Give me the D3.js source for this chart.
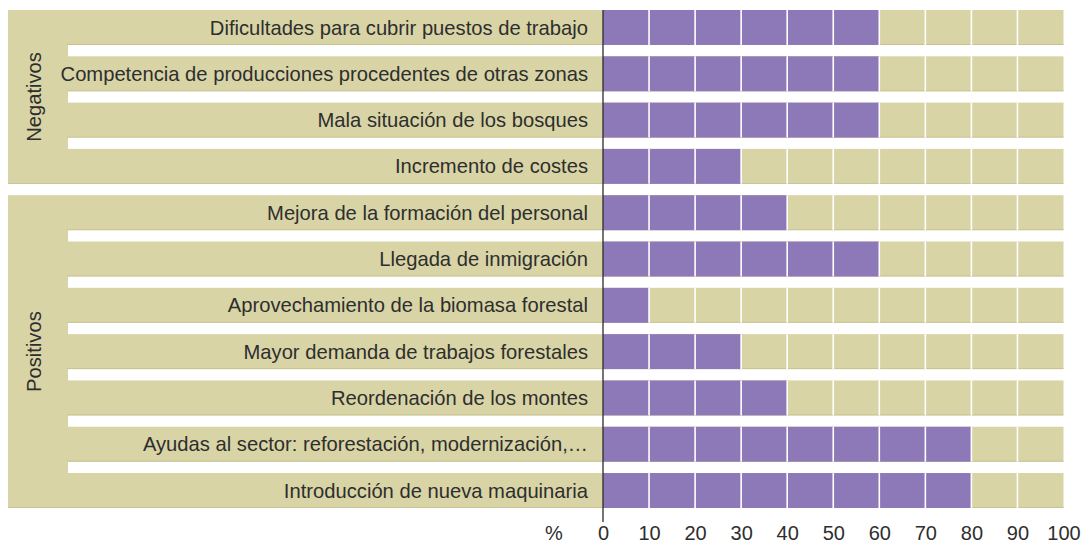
<!DOCTYPE html>
<html><head><meta charset="utf-8">
<script src="https://cdn.jsdelivr.net/npm/d3@7"></script>
<style>body{margin:0;background:#fff}svg{display:block}text{font-family:"Liberation Sans",Arial,sans-serif;fill:#2e2e2e}</style>
</head><body><svg id="c" width="1084" height="544"></svg>
<script>
const categories = [
  "Dificultades para cubrir puestos de trabajo",
  "Competencia de producciones procedentes de otras zonas",
  "Mala situación de los bosques",
  "Incremento de costes",
  "Mejora de la formación del personal",
  "Llegada de inmigración",
  "Aprovechamiento de la biomasa forestal",
  "Mayor demanda de trabajos forestales",
  "Reordenación de los montes",
  "Ayudas al sector: reforestación, modernización,…",
  "Introducción de nueva maquinaria"
];
const values = [60, 60, 60, 30, 40, 60, 10, 30, 40, 80, 80];
const groups = ["Negativos", "Negativos", "Negativos", "Negativos", "Positivos", "Positivos", "Positivos", "Positivos", "Positivos", "Positivos", "Positivos"];
const groupNames = ["Negativos", "Positivos"];
const tickValues = [0, 10, 20, 30, 40, 50, 60, 70, 80, 90, 100];
const unitLabel = "%";

const beige = "#d8d4a6", purple = "#8e79b8", edge = "#c8c391";
const fs = "20.2px";
const svg = d3.select("#c");
const x = d3.scaleLinear().domain([0, 100]).range([603, 1063.5]);
const y = d3.scaleBand().domain(categories).range([10, 508]).paddingInner(0.245).paddingOuter(0);
const panelX0 = 8, labelX0 = 67;

groupNames.forEach(g => {
  const rows = categories.filter((c, i) => groups[i] === g);
  const top = y(rows[0]), bot = y(rows[rows.length - 1]) + y.bandwidth();
  svg.append("rect").attr("x", panelX0).attr("y", top).attr("width", labelX0 - panelX0 + 1).attr("height", bot - top).attr("fill", beige);
  svg.append("line").attr("x1", panelX0).attr("x2", labelX0).attr("y1", bot - 0.5).attr("y2", bot - 0.5).attr("stroke", edge);
  svg.append("text").attr("transform", `translate(34,${(top + bot) / 2}) rotate(-90)`)
    .attr("text-anchor", "middle").attr("dy", "0.35em").style("font-size", fs).text(g);
});

const row = svg.selectAll("g.row").data(categories).join("g").attr("class", "row");
row.append("rect").attr("x", labelX0).attr("y", d => y(d)).attr("width", x(0) - labelX0).attr("height", y.bandwidth()).attr("fill", beige);
row.append("rect").attr("x", x(0)).attr("y", d => y(d)).attr("width", x(100) - x(0)).attr("height", y.bandwidth()).attr("fill", beige);
row.append("line").attr("x1", labelX0).attr("x2", x(100)).attr("y1", d => y(d) + y.bandwidth() - 0.5).attr("y2", d => y(d) + y.bandwidth() - 0.5).attr("stroke", edge);
row.append("rect").attr("x", x(0)).attr("y", d => y(d)).attr("width", (d, i) => x(values[i]) - x(0)).attr("height", y.bandwidth()).attr("fill", purple);
row.append("text").attr("x", 588).attr("y", d => y(d) + y.bandwidth() / 2).attr("dy", "0.35em")
  .attr("text-anchor", "end").style("font-size", fs).text(d => d);

categories.forEach(c => {
  svg.selectAll(null).data(tickValues.slice(1, -1)).join("line")
    .attr("x1", d => x(d)).attr("x2", d => x(d)).attr("y1", y(c)).attr("y2", y(c) + y.bandwidth())
    .attr("stroke", "#fff").attr("stroke-width", 1.6);
});

svg.append("line").attr("x1", x(0)).attr("x2", x(0)).attr("y1", 10).attr("y2", 522).attr("stroke", "#2a2a2a").attr("stroke-width", 1.3);

const ax = svg.append("g").attr("transform", "translate(0,539.5)")
  .call(d3.axisBottom(x).tickValues(tickValues).tickSize(0).tickPadding(0).tickFormat(d3.format("d")));
ax.select(".domain").remove();
ax.selectAll("text").attr("dy", "0").attr("y", 0).style("font-size", "20px").attr("fill", "#2e2e2e").style("font-family", "Liberation Sans, Arial, sans-serif");
svg.append("text").attr("x", 554).attr("y", 539.5).attr("text-anchor", "middle").style("font-size", "20px").text(unitLabel);
</script></body></html>
